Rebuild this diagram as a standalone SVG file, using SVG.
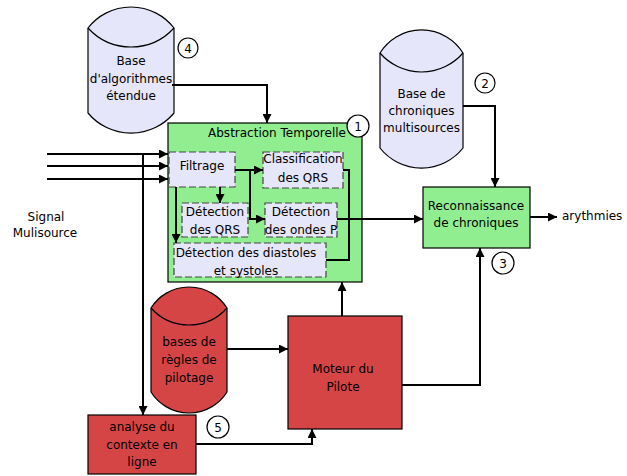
<svg xmlns="http://www.w3.org/2000/svg" width="627" height="476" viewBox="0 0 627 476">
<style>
text{font-family:"DejaVu Sans",Verdana,sans-serif;font-size:12px;fill:#000;text-anchor:middle}
.cyl{fill:#e6e6fa;stroke:#000;stroke-width:1.2}
.cylr{fill:#d64545;stroke:#000;stroke-width:1.2}
.box{fill:#90ee90;stroke:#000;stroke-width:1.2}
.red{fill:#d64545;stroke:#000;stroke-width:1.2}
.dash{fill:#e6e6fa;stroke:#444;stroke-width:1.2;stroke-dasharray:7 3}
.num{fill:#fff;stroke:#000;stroke-width:1.2}
.c{fill:none;stroke:#000;stroke-width:2}
.lens{fill:none;stroke:#000;stroke-width:1.2}
</style>
<defs>
<marker id="ah" viewBox="0 0 10 10" refX="10" refY="5" markerWidth="4.5" markerHeight="4.5" orient="auto" markerUnits="strokeWidth">
<path d="M0,0 L10,5 L0,10 Z" fill="#000"/>
</marker>
</defs>

<g id="base-algorithmes">
<path class="cyl" d="M88,28 A54.5,54.5 0 0 1 174,28 L174,113 A56,56 0 0 1 88,113 Z"/>
<path class="lens" d="M88,28 A58.2,58.2 0 0 0 174,28"/>
<text x="131" y="65">Base</text>
<text x="131" y="83">d'algorithmes</text>
<text x="131" y="100">étendue</text>
</g>

<g id="label-4">
<circle class="num" cx="188" cy="48" r="10"/>
<text x="188" y="52.5">4</text>
</g>

<g id="base-chroniques">
<path class="cyl" d="M380,53 A48.9,48.9 0 0 1 463,53 L463,148 A53,53 0 0 1 380,148 Z"/>
<path class="lens" d="M380,53 A54.8,54.8 0 0 0 463,53"/>
<text x="421.5" y="98">Base de</text>
<text x="421.5" y="115">chroniques</text>
<text x="421.5" y="132">multisources</text>
</g>

<g id="label-2">
<circle class="num" cx="485" cy="83" r="10"/>
<text x="485" y="87.5">2</text>
</g>

<g id="abstraction">
<rect class="box" x="168" y="123" width="194" height="159"/>
<text x="277" y="137">Abstraction Temporelle</text>
</g>

<g id="label-1">
<circle class="num" cx="358" cy="126" r="11"/>
<text x="358" y="130.5">1</text>
</g>

<g id="filtrage">
<rect class="dash" x="169" y="152" width="66" height="35"/>
<text x="202" y="170">Filtrage</text>
</g>

<g id="classification">
<rect class="dash" x="263" y="152" width="80" height="36"/>
<text x="303" y="163">Classification</text>
<text x="303" y="182">des QRS</text>
</g>

<g id="detection-qrs">
<rect class="dash" x="182" y="203" width="66" height="34"/>
<text x="215" y="216">Détection</text>
<text x="215" y="234">des QRS</text>
</g>

<g id="detection-ondes-p">
<rect class="dash" x="265" y="203" width="72" height="34"/>
<text x="301" y="216">Détection</text>
<text x="301" y="234">des ondes P</text>
</g>

<g id="detection-diastoles">
<rect class="dash" x="174" y="243" width="152" height="34"/>
<text x="246" y="257">Détection des diastoles</text>
<text x="246" y="275">et systoles</text>
</g>

<g id="reconnaissance">
<rect class="box" x="423" y="187" width="107" height="61"/>
<text x="476" y="210">Reconnaissance</text>
<text x="476" y="227">de chroniques</text>
</g>

<g id="label-3">
<circle class="num" cx="503" cy="263" r="11"/>
<text x="503" y="267.5">3</text>
</g>

<g id="arythmies">
<text x="562" y="220" style="text-anchor:start">arythmies</text>
</g>

<g id="signal">
<text x="46" y="221">Signal</text>
<text x="45" y="237">Mulisource</text>
</g>

<g id="bases-regles">
<path class="cylr" d="M151,308 A44.9,44.9 0 0 1 227,308 L227,392 A44.9,44.9 0 0 1 151,392 Z"/>
<path class="lens" d="M151,308 A51,51 0 0 0 227,308"/>
<text x="189" y="346">bases de</text>
<text x="189" y="364">règles de</text>
<text x="189" y="382">pilotage</text>
</g>

<g id="moteur">
<rect class="red" x="288" y="316" width="114" height="113"/>
<text x="343" y="373">Moteur du</text>
<text x="343" y="391">Pilote</text>
</g>

<g id="analyse">
<rect class="red" x="88" y="415" width="108" height="59"/>
<text x="142" y="431">analyse du</text>
<text x="142" y="449">contexte en</text>
<text x="142" y="466">ligne</text>
</g>

<g id="label-5">
<circle class="num" cx="218" cy="427" r="11"/>
<text x="218" y="431.5">5</text>
</g>

<g id="connectors">
<path class="c" d="M47,154 H168" marker-end="url(#ah)"/>
<path class="c" d="M47,166 H168" marker-end="url(#ah)"/>
<path class="c" d="M47,179 H168" marker-end="url(#ah)"/>
<path class="c" d="M143,153 V415" marker-end="url(#ah)"/>
<path class="c" d="M172,85 H267 V123" marker-end="url(#ah)"/>
<path class="c" d="M463,106 H495 V187" marker-end="url(#ah)"/>
<path class="c" d="M235,170 H263" marker-end="url(#ah)"/>
<path class="c" d="M250,170 V219 H265" marker-end="url(#ah)"/>
<path class="c" d="M220,187 V203" marker-end="url(#ah)"/>
<path class="c" d="M176,187 V243" marker-end="url(#ah)"/>
<path class="c" d="M343,170 H349 V260 H326"/>
<path class="c" d="M337,219 H423" marker-end="url(#ah)"/>
<path class="c" d="M530,217 H557" marker-end="url(#ah)"/>
<path class="c" d="M342,316 V282" marker-end="url(#ah)"/>
<path class="c" d="M402,385 H480 V248" marker-end="url(#ah)"/>
<path class="c" d="M227,349 H288" marker-end="url(#ah)"/>
<path class="c" d="M196,444 H312 V429" marker-end="url(#ah)"/>
</g>
</svg>
